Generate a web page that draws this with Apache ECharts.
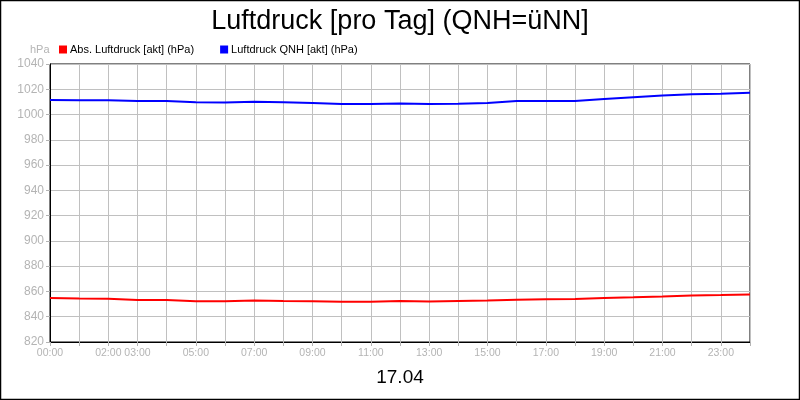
<!DOCTYPE html>
<html><head><meta charset="utf-8">
<script src="https://cdn.jsdelivr.net/npm/echarts@6/dist/echarts.min.js"></script>
<style>html,body{margin:0;padding:0;background:#fff}#c{width:800px;height:400px}</style>
</head><body><div id="c"></div>
<script>
const hours = [0,1,2,3,4,5,6,7,8,9,10,11,12,13,14,15,16,17,18,19,20,21,22,23,24];
const absPressure = [854.9,854.4,854.2,853.3,853.3,852.3,852.3,852.8,852.5,852.3,851.8,851.8,852.4,852.0,852.5,852.8,853.5,853.8,854.0,854.9,855.4,856.0,856.8,857.1,857.6];
const qnhPressure = [1011.5,1011.3,1011.3,1010.8,1010.8,1009.7,1009.5,1010.2,1009.7,1009.2,1008.4,1008.4,1008.8,1008.4,1008.6,1009.2,1010.8,1010.8,1010.8,1012.3,1013.7,1015.0,1016.0,1016.5,1017.3];
const xTickLabels = {0:'00:00',2:'02:00',3:'03:00',5:'05:00',7:'07:00',9:'09:00',11:'11:00',13:'13:00',15:'15:00',17:'17:00',19:'19:00',21:'21:00',23:'23:00'};
const seriesNames = ['Abs. Luftdruck [akt] (hPa)','Luftdruck QNH [akt] (hPa)'];

const chart = echarts.init(document.getElementById('c'));
const font = 'Liberation Sans, Arial, sans-serif';
chart.setOption({
  animation:false,
  backgroundColor:'#fff',
  title:{text:'Luftdruck [pro Tag] (QNH=üNN]',left:'center',top:3,
    textStyle:{fontFamily:font,fontSize:27,fontWeight:'normal',color:'#000'}},
  legend:{left:54,top:39,itemWidth:8,itemHeight:8,itemGap:26,icon:'rect',
    textStyle:{fontFamily:font,fontSize:11,color:'#000',padding:[0,0,0,-2]},
    data:seriesNames},
  grid:{left:50,right:50,top:64,bottom:58,show:true,borderColor:'#000',borderWidth:1},
  graphic:[
    {type:'rect',shape:{x:0.5,y:0.5,width:799,height:399},style:{fill:'none',stroke:'#000',lineWidth:1.5},z:100},
    {type:'text',left:30,top:44,style:{text:'hPa',font:'11px '+font,fill:'#b4b4b4'}},
    {type:'text',left:'center',top:368,style:{text:'17.04',font:'19px '+font,fill:'#000'}}
  ],
  xAxis:{type:'value',min:0,max:24,interval:1,
    axisLine:{lineStyle:{color:'#000'}},
    axisTick:{show:true,length:4,lineStyle:{color:'#b4b4b4'}},
    splitLine:{show:true,lineStyle:{color:'#c0c0c0',width:1}},
    axisLabel:{fontFamily:font,fontSize:10.5,color:'#b4b4b4',margin:6,hideOverlap:false,
      formatter:v=>xTickLabels[v]||''}},
  yAxis:{type:'value',min:820,max:1040,interval:20,
    axisLine:{show:true,lineStyle:{color:'#000'}},
    axisTick:{show:true,length:4,lineStyle:{color:'#b4b4b4'}},
    splitLine:{show:true,lineStyle:{color:'#c0c0c0',width:1}},
    axisLabel:{fontFamily:font,fontSize:12,color:'#b4b4b4',margin:6,formatter:v=>String(v)}},
  series:[
    {name:seriesNames[0],type:'line',showSymbol:false,color:'#ff0000',
      lineStyle:{width:2,color:'#ff0000'},data:hours.map((h,i)=>[h,absPressure[i]])},
    {name:seriesNames[1],type:'line',showSymbol:false,color:'#0000ff',
      lineStyle:{width:2,color:'#0000ff'},data:hours.map((h,i)=>[h,qnhPressure[i]])}
  ]
});
</script></body></html>
